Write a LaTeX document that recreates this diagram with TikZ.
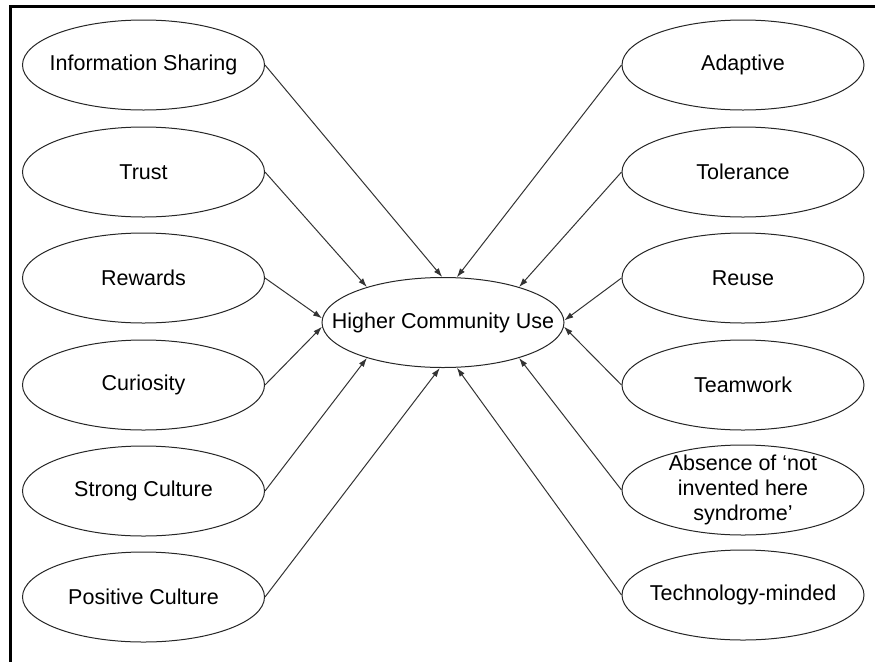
\documentclass[tikz,border=0pt]{standalone}
\usepackage{fontspec}
\setmainfont{Liberation Sans}
\usetikzlibrary{shapes.geometric,arrows.meta}

\tikzset{
  oval/.style={shape=ellipse, draw=black!85, line width=1pt, fill=white,
    minimum width=242pt, minimum height=90pt, inner sep=0pt},
  every label/.style={align=center, inner sep=0pt,
    font=\fontsize{21.5}{25}\selectfont},
  link/.style={draw=black!80, line width=1pt,
    -{Latex[length=9pt,width=6pt]}},
  frameline/.style={line width=3pt, black}
}

\begin{document}
\begin{tikzpicture}[x=1pt,y=-1pt]
  \useasboundingbox (0,0) rectangle (875,662);

  % frame along the top and the left
  \coordinate (ftr) at (875,6.5);
  \coordinate (ftl) at (10.5,6.5);
  \coordinate (fbl) at (10.5,662);
  \draw[frameline] (ftr) -- (ftl) -- (fbl);

  % central outcome
  \node[oval, label={center:Higher Community Use}] (hc) at (443,322.5) {};

  % left-hand factors
  \node[oval, label={center:Information Sharing}] (is) at (143.5,65) {};
  \node[oval, label={center:Trust}]               (tr) at (143.5,172) {};
  \node[oval, label={center:Rewards}]             (rw) at (143.5,278) {};
  \node[oval, label={center:Curiosity}]           (cu) at (143.5,385) {};
  \node[oval, label={center:Strong Culture}]      (sc) at (143.5,491) {};
  \node[oval, label={center:Positive Culture}]    (pc) at (143.5,597) {};

  % right-hand factors
  \node[oval, label={center:Adaptive}]            (ad) at (743,65) {};
  \node[oval, label={center:Tolerance}]           (to) at (743,172) {};
  \node[oval, label={center:Reuse}]               (ru) at (743,278) {};
  \node[oval, label={center:Teamwork}]            (tw) at (743,385) {};
  \node[oval, label={center:Absence of ‘not\\invented here\\syndrome’}] (ab) at (743,490) {};
  \node[oval, label={center:Technology-minded}]   (tm) at (743,595) {};

  % connectors into the central ellipse
  \draw[link] (is.east) -- (hc.91);
  \draw[link] (tr.east) -- (hc.155.5);
  \draw[link] (rw.east) -- (hc.178);
  \draw[link] (cu.east) -- (hc.182);
  \draw[link] (sc.east) -- (hc.205);
  \draw[link] (pc.east) -- (hc.266);

  \draw[link] (ad.west) -- (hc.73);
  \draw[link] (to.west) -- (hc.25);
  \draw[link] (ru.west) -- (hc.1);
  \draw[link] (tw.west) -- (hc.358);
  \draw[link] (ab.west) -- (hc.335);
  \draw[link] (tm.west) -- (hc.287);
\end{tikzpicture}
\end{document}
